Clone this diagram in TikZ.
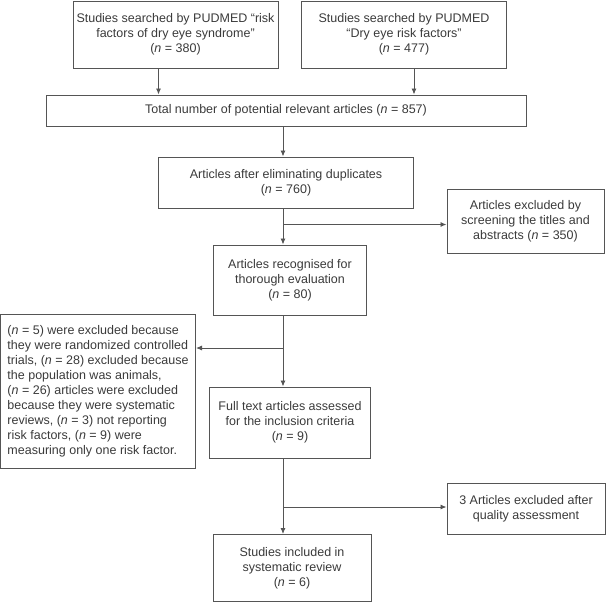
\documentclass[tikz,border=0pt]{standalone}
\usepackage{fontspec}
\setmainfont{Liberation Sans}
\usepackage{tikz}
\usetikzlibrary{arrows.meta}
\definecolor{linegray}{HTML}{555555}
\definecolor{textgray}{HTML}{3A3A3A}
\tikzset{
  box/.style={draw=linegray, line width=1pt, text=textgray, align=center, inner sep=0pt,
    font=\fontsize{12.5}{15}\selectfont},
  arr/.style={draw=linegray, line width=0.9pt, -{Latex[length=6pt,width=5pt]}},
  link/.style={draw=linegray, line width=0.9pt}
}
\newcommand{\nn}{\textit{n}}
\newcommand{\flowbox}[6]{\node[box, minimum width=#4pt, minimum height=#5pt] (#1) at ( #2 , #3 ) {#6};}

\begin{document}
\begin{tikzpicture}[x=1pt, y=-1pt]
        \useasboundingbox (0,0) rectangle (606,603);
        \flowbox{srcA}{175.5}{34.5}{205}{67}{Studies searched by PUDMED “risk\\factors of dry eye syndrome”\\(\nn{} = 380)}
        \flowbox{srcB}{404}{34.5}{204.5}{67}{Studies searched by PUDMED\\“Dry eye risk factors”\\(\nn{} = 477)}
        \flowbox{total}{286}{110.5}{480}{31}{Total number of potential relevant articles (\nn{} = 857)}
        \flowbox{dup}{286}{182.5}{255.5}{51}{Articles after eliminating duplicates\\(\nn{} = 760)}
        \flowbox{exclA}{525.5}{221}{157}{64}{Articles excluded by\\screening the titles and\\abstracts (\nn{} = 350)}
        \flowbox{rec}{290}{280}{152.5}{70}{Articles recognised for\\thorough evaluation\\(\nn{} = 80)}
        \node[box, align=left, minimum width=195pt, minimum height=154pt] (why) at ( 98 , 391 ) {(\nn{} = 5) were excluded because\\they were randomized controlled\\trials, (\nn{} = 28) excluded because\\the population was animals,\\(\nn{} = 26) articles were excluded\\because they were systematic\\reviews, (\nn{} = 3) not reporting\\risk factors, (\nn{} = 9) were\\measuring only one risk factor.};
        \flowbox{full}{290}{422.5}{161.5}{71}{Full text articles assessed\\for the inclusion criteria\\(\nn{} = 9)}
        \flowbox{exclB}{526}{508.5}{158}{51}{3 Articles excluded after\\quality assessment}
        \flowbox{incl}{292}{568}{158}{67}{Studies included in\\systematic review\\(\nn{} = 6)}
        \coordinate (colA) at (158.5,0);
        \coordinate (colB) at (414,0);
        \coordinate (spine) at (283,0);
        \coordinate (jA) at (283,224.5);
        \coordinate (jB) at (283,348);
        \coordinate (jC) at (283,507);
        \draw[arr] (srcA.south -| colA) -- (total.north -| colA);
        \draw[arr] (srcB.south -| colB) -- (total.north -| colB);
        \draw[arr] (total.south -| spine) -- (dup.north -| spine);
        \draw[arr] (dup.south -| spine) -- (rec.north -| spine);
        \draw[arr] (jA) -- (exclA.west |- jA);
        \draw[arr] (rec.south -| spine) -- (full.north -| spine);
        \draw[arr] (jB) -- (why.east |- jB);
        \draw[arr] (full.south -| spine) -- (incl.north -| spine);
        \draw[arr] (jC) -- (exclB.west |- jC);
    \end{tikzpicture}
\end{document}
